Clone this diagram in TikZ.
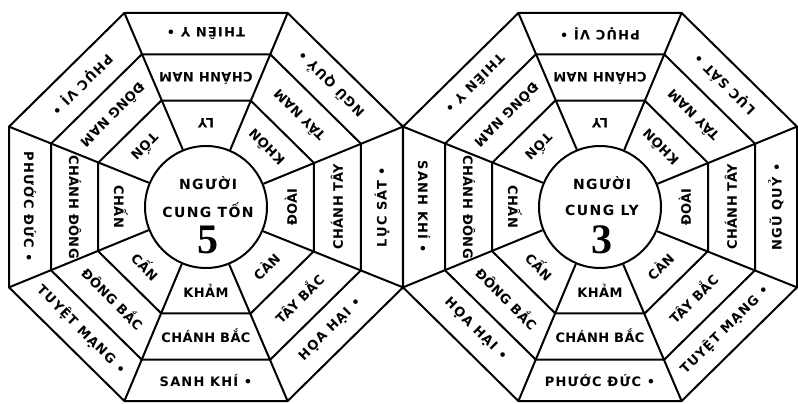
\documentclass[tikz,border=0pt]{standalone}
\usepackage{fontspec}
\setmainfont{DejaVu Sans}
\newfontfamily\ringfamily[LetterSpace=3]{DejaVu Sans}
\newfontfamily\omenfamily[LetterSpace=9]{DejaVu Sans}
\newfontfamily\housefamily[LetterSpace=10]{DejaVu Sans}
\newfontfamily\numfamily{Liberation Serif}
\usepackage{tikz}

\begin{document}
\begin{tikzpicture}[x=1pt,y=0.985pt]
  \useasboundingbox (0,0) rectangle (798,410.15);

  \tikzset{
    bagualine/.style={line width=2pt, line join=round},
    core/.style={circle, draw, line width=2pt, minimum size=122pt, inner sep=0pt},
    ringlabel/.style={font=\ringfamily\bfseries\fontsize{13}{13}\selectfont, inner sep=0pt},
    omenlabel/.style={font=\omenfamily\bfseries\fontsize{13}{13}\selectfont, inner sep=0pt},
    houselabel/.style={font=\housefamily\bfseries\fontsize{14}{14}\selectfont, inner sep=0pt},
    numlabel/.style={font=\numfamily\bfseries\fontsize{42}{42}\selectfont, inner sep=0pt}
  }

  % one octagon ring, #1 = inradius
  \newcommand{\Octagon}[1]{%
    \draw[bagualine] (22.5:#1*1.0824)
      \foreach \k in {1,...,7}{ -- (22.5+45*\k:#1*1.0824)} -- cycle;
  }

  % #1 name, #2 centre x, #3 house, #4 number, #5 sectors
  \newcommand{\Bagua}[5]{%
    \begin{scope}[shift={(#2,200)}]
      \Octagon{108}
      \Octagon{155}
      \Octagon{197}
      \node[core] (#1) at (0,0) {};
      \foreach \k in {0,...,7}{
        \pgfmathsetmacro{\ang}{22.5+45*\k}
        \coordinate (#1-v\k) at (\ang:213.2);
        \draw[bagualine] (#1.\ang) -- (#1-v\k);
      }
      \foreach \ang/\trigram/\direction/\omen [count=\i] in {#5}{
        \node[ringlabel, rotate=\ang+90] (#1-in\i) at (\ang:85) {\trigram};
        \node[ringlabel, rotate=\ang+90] (#1-mid\i) at (\ang:131) {\direction};
        \node[omenlabel, rotate=\ang+90] (#1-out\i) at (\ang:176) {\omen};
      }
      \node[houselabel] (#1-who) at (2,24.5) {NGƯỜI};
      \node[houselabel] (#1-house) at (2,-3) {CUNG #3};
      \node[numlabel] (#1-num) at (2,-33.5) {#4};
    \end{scope}
  }

  \Bagua{ton}{206}{TỐN}{5}{
    90/LY/CHÁNH NAM/THIÊN Y •,
    45/KHÔN/TÂY NAM/NGŨ QUỶ •,
    0/ĐOÀI/CHÁNH TÂY/LỤC SÁT •,
    -45/CÀN/TÂY BẮC/HỌA HẠI •,
    -90/KHẢM/CHÁNH BẮC/SANH KHÍ •,
    -135/CẤN/ĐÔNG BẮC/TUYỆT MẠNG •,
    180/CHẤN/CHÁNH ĐÔNG/PHƯỚC ĐỨC •,
    135/TỐN/ĐÔNG NAM/PHỤC VỊ •}

  \Bagua{ly}{600}{LY}{3}{
    90/LY/CHÁNH NAM/PHỤC VỊ •,
    45/KHÔN/TÂY NAM/LỤC SÁT •,
    0/ĐOÀI/CHÁNH TÂY/NGŨ QUỶ •,
    -45/CÀN/TÂY BẮC/TUYỆT MẠNG •,
    -90/KHẢM/CHÁNH BẮC/PHƯỚC ĐỨC •,
    -135/CẤN/ĐÔNG BẮC/HỌA HẠI •,
    180/CHẤN/CHÁNH ĐÔNG/SANH KHÍ •,
    135/TỐN/ĐÔNG NAM/THIÊN Y •}

\end{tikzpicture}
\end{document}
